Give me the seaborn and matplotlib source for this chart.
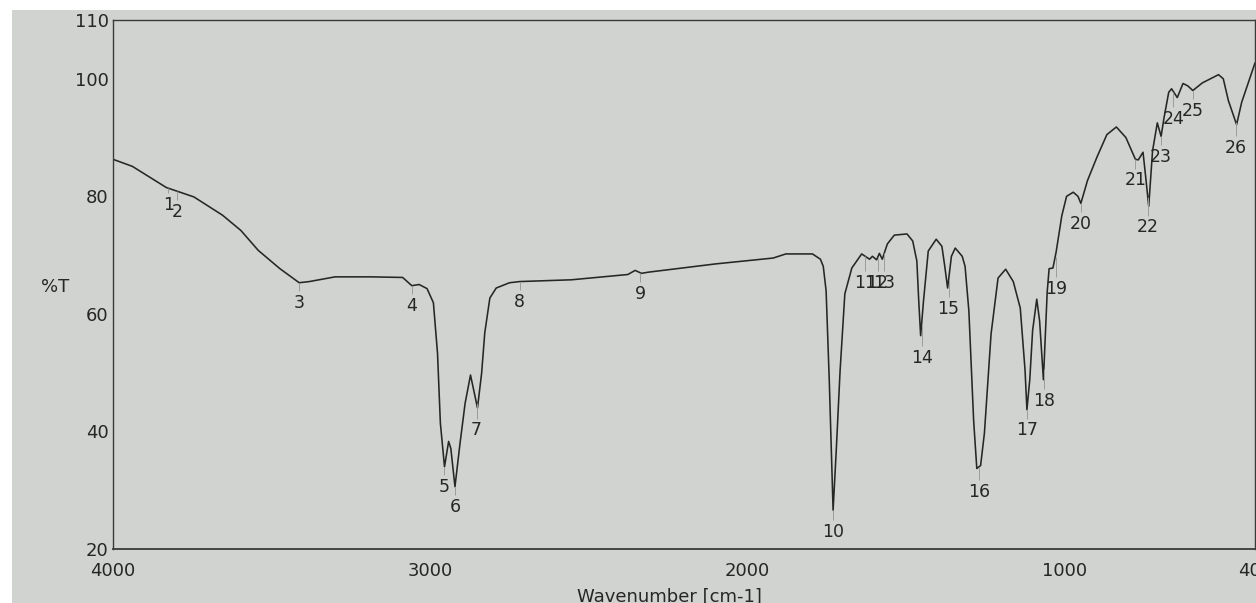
import numpy as np
import matplotlib
matplotlib.use("Agg")
import matplotlib.pyplot as plt
import seaborn as sns
from matplotlib.patches import Rectangle

# ---- spectrum trace (wavenumber cm-1, %T) ----
wavenumber = [4000, 3939, 3832, 3745, 3655, 3597, 3542, 3474, 3413, 3381, 3300, 3187, 3087,
              3058, 3035, 3010, 2990, 2977, 2968, 2955, 2942, 2935, 2922, 2906, 2890, 2873,
              2851, 2838, 2828, 2812, 2792, 2750, 2718, 2555, 2377, 2354, 2334, 2312, 2101,
              1919, 1879, 1795, 1770, 1761, 1752, 1742, 1730, 1720, 1708, 1693, 1671, 1640,
              1615, 1606, 1593, 1584, 1575, 1559, 1537, 1497, 1479, 1466, 1460, 1454, 1445,
              1430, 1405, 1387, 1378, 1369, 1357, 1345, 1323, 1314, 1302, 1287, 1277, 1265,
              1253, 1232, 1210, 1186, 1162, 1140, 1125, 1119, 1110, 1101, 1088, 1079, 1067,
              1055, 1049, 1037, 1027, 1009, 994, 973, 958, 949, 928, 898, 867, 837, 807, 777,
              768, 753, 744, 735, 723, 708, 696, 687, 672, 663, 645, 627, 612, 596, 566, 515,
              500, 484, 458, 442, 400]
transmittance = [86.3, 85.1, 81.5, 79.9, 76.8, 74.2, 70.8, 67.7, 65.3, 65.5, 66.3, 66.3, 66.2,
                 64.8, 65.0, 64.3, 61.9, 53.3, 41.4, 34.0, 38.3, 37.1, 30.6, 38.0, 44.8, 49.6,
                 44.0, 49.9, 56.8, 62.7, 64.4, 65.3, 65.5, 65.8, 66.7, 67.4, 66.9, 67.1, 68.5,
                 69.5, 70.2, 70.2, 69.3, 68.1, 63.9, 48.6, 26.6, 36.8, 50.3, 63.4, 67.8, 70.2,
                 69.3, 69.8, 69.2, 70.3, 69.3, 71.9, 73.4, 73.6, 72.4, 69.0, 62.2, 56.3, 62.2,
                 70.7, 72.7, 71.5, 68.1, 64.4, 69.8, 71.2, 69.8, 68.1, 60.5, 41.9, 33.7, 34.2,
                 39.7, 56.6, 66.1, 67.6, 65.5, 61.0, 50.5, 43.7, 48.8, 57.2, 62.5, 58.8, 48.8,
                 63.8, 67.7, 67.8, 70.5, 76.7, 80.0, 80.7, 80.0, 78.8, 82.7, 86.7, 90.5, 91.8,
                 90.0, 86.3, 86.2, 87.5, 83.0, 78.3, 87.7, 92.5, 90.2, 93.3, 97.7, 98.3, 96.8,
                 99.2, 98.8, 98.0, 99.3, 100.7, 100.0, 96.3, 92.2, 96.0, 102.7]

# ---- peak labels ----
peak_labels = ["1", "2", "3", "4", "5", "6", "7", "8", "9", "10", "11", "12", "13", "14",
               "15", "16", "17", "18", "19", "20", "21", "22", "23", "24", "25", "26"]
peak_wn = [3826, 3797, 3413, 3058, 2955, 2922, 2854, 2718, 2338, 1730, 1630, 1590, 1568,
           1451, 1366, 1271, 1119, 1064, 1027, 949, 777, 738, 696, 657, 596, 461]
label_T = [78.5, 77.3, 61.9, 61.4, 30.6, 27.2, 40.2, 62.1, 63.4, 22.9, 65.3, 65.3, 65.3,
           52.5, 60.8, 29.7, 40.2, 45.2, 64.2, 75.3, 82.7, 74.7, 86.7, 93.2, 94.5, 88.3]

y_major = [20, 40, 60, 80, 100, 110]
y_minor = [30, 50, 70, 90]
x_major = [4000, 3000, 2000, 1000, 400]
x_minor = [3500, 2500, 1500, 500]

sns.set_theme(style="white")
plt.rcParams["font.family"] = ["DejaVu Sans"]

bg = "#d1d3d0"
ink = "#262626"

fig = plt.figure(figsize=(12.56, 6.03), dpi=100, facecolor="white")
fig.patches.append(Rectangle((12 / 1256, 0), 1, 1 - 10 / 603, transform=fig.transFigure,
                             facecolor=bg, edgecolor="none", zorder=-10))
ax = fig.add_axes([113 / 1256, 1 - 549 / 603, (1255 - 113) / 1256, (549 - 20) / 603])
ax.set_zorder(1)
ax.set_facecolor(bg)

sns.lineplot(x=wavenumber, y=transmittance, sort=False, estimator=None, ax=ax,
             color=ink, linewidth=1.15)

# faint peak marker lines and labels
for lab, wn, ty in zip(peak_labels, peak_wn, label_T):
    cur = float(np.interp(wn, wavenumber[::-1], transmittance[::-1]))
    top = ty + 2.0
    if cur > top + 0.5:
        ax.vlines(wn, top, min(cur, top + 3.5), color="#9c9c9c", linewidth=0.7)
    ax.text(wn, ty, lab, ha="center", va="center", fontsize=12.5, color=ink)

ax.set_xlim(4000, 400)
ax.set_ylim(20, 110)
ax.set_xticks(x_major)
ax.set_xticks(x_minor, minor=True)
ax.set_yticks(y_major)
ax.set_yticks(y_minor, minor=True)
ax.set_xticklabels([str(v) for v in x_major])
ax.set_yticklabels([str(v) for v in y_major])
ax.tick_params(axis="both", which="both", direction="in", color="#555555",
               labelcolor=ink, labelsize=13, length=4, width=0.8)
ax.tick_params(axis="x", which="both", pad=9)
ax.tick_params(axis="y", which="both", pad=3)
ax.set_xlabel("")
ax.set_ylabel("")
for side in ["left", "bottom", "top", "right"]:
    ax.spines[side].set_visible(True)
    ax.spines[side].set_color("#3a3a3a")
    ax.spines[side].set_linewidth(1.0)
ax.spines["bottom"].set_linewidth(1.3)

fig.text(55 / 1256, 1 - 287 / 603, "%T", ha="center", va="center", fontsize=13, color=ink)
fig.text(669 / 1256, 1 - 597 / 603, "Wavenumber [cm-1]", ha="center", va="center",
         fontsize=13, color=ink)

fig.savefig("out.png", dpi=100, facecolor=fig.get_facecolor())
